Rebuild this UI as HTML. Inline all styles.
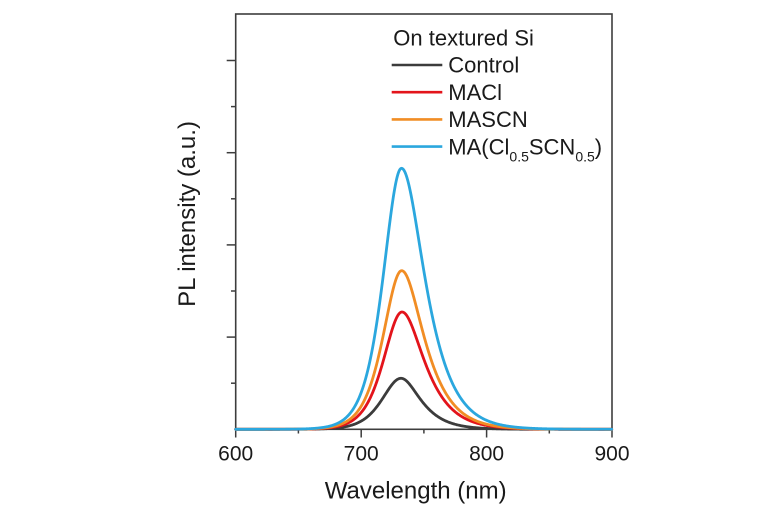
<!DOCTYPE html>
<html>
<head>
<meta charset="utf-8">
<style>
  html, body { margin: 0; padding: 0; background: #ffffff; }
  body { width: 780px; height: 520px; overflow: hidden; }
  svg { display: block; font-family: "Liberation Sans", Arial, sans-serif; }
</style>
</head>
<body>
<svg id="chart" width="780" height="520" viewBox="0 0 780 520" xmlns="http://www.w3.org/2000/svg">
  <rect x="0" y="0" width="780" height="520" fill="#ffffff"/>

  <!-- frame -->
  <rect x="235.7" y="14" width="376.3" height="415.3" fill="none" stroke="#3d3d3d" stroke-width="1.6"/>

  <!-- y ticks -->
  <g stroke="#3d3d3d" stroke-width="1.5">
    <line x1="226.7" y1="60.5" x2="235.7" y2="60.5"/>
    <line x1="226.7" y1="152.7" x2="235.7" y2="152.7"/>
    <line x1="226.7" y1="244.9" x2="235.7" y2="244.9"/>
    <line x1="226.7" y1="337.1" x2="235.7" y2="337.1"/>
    <line x1="231" y1="106.6" x2="235.7" y2="106.6"/>
    <line x1="231" y1="198.8" x2="235.7" y2="198.8"/>
    <line x1="231" y1="291" x2="235.7" y2="291"/>
    <line x1="231" y1="383.2" x2="235.7" y2="383.2"/>
  </g>

  <!-- x ticks -->
  <g stroke="#3d3d3d" stroke-width="1.5">
    <line x1="235.7" y1="429.3" x2="235.7" y2="437.5"/>
    <line x1="361.2" y1="429.3" x2="361.2" y2="437.5"/>
    <line x1="486.6" y1="429.3" x2="486.6" y2="437.5"/>
    <line x1="612" y1="429.3" x2="612" y2="437.5"/>
    <line x1="298.4" y1="429.3" x2="298.4" y2="433.5"/>
    <line x1="423.9" y1="429.3" x2="423.9" y2="433.5"/>
    <line x1="549.3" y1="429.3" x2="549.3" y2="433.5"/>
  </g>

  <!-- x tick labels -->
  <g font-size="21" fill="#1a1a1a" text-anchor="middle">
    <text x="235.7" y="460.5">600</text>
    <text x="361.2" y="460.5">700</text>
    <text x="486.6" y="460.5">800</text>
    <text x="612" y="460.5">900</text>
  </g>

  <!-- axis titles -->
  <text x="415.7" y="498.3" font-size="24" fill="#1a1a1a" text-anchor="middle">Wavelength (nm)</text>
  <text transform="translate(195.2,214) rotate(-90)" font-size="24" fill="#1a1a1a" text-anchor="middle">PL intensity (a.u.)</text>

  <!-- curves -->
  <g id="curves" fill="none" stroke-width="2.8" stroke-linejoin="round" stroke-linecap="round"></g>

  <!-- legend -->
  <text x="393.3" y="45.7" font-size="22" fill="#1a1a1a">On textured Si</text>
  <g stroke-width="2.6">
    <line x1="391.7" y1="65" x2="442.3" y2="65" stroke="#3c3c3c"/>
    <line x1="391.7" y1="92.2" x2="442.3" y2="92.2" stroke="#e3141b"/>
    <line x1="391.7" y1="119.4" x2="442.3" y2="119.4" stroke="#f18d24"/>
    <line x1="391.7" y1="146.6" x2="442.3" y2="146.6" stroke="#2ba7de"/>
  </g>
  <g font-size="22" fill="#1a1a1a">
    <text x="448.3" y="72.7">Control</text>
    <text x="448.3" y="99.9">MACl</text>
    <text x="448.3" y="127.1">MASCN</text>
    <text x="448.3" y="154.3">MA(Cl<tspan font-size="14" dy="7">0.5</tspan><tspan dy="-7">SCN</tspan><tspan font-size="14" dy="7">0.5</tspan><tspan dy="-7">)</tspan></text>
  </g>
</svg>
<script>
(function(){
  var base = 429.3;
  function hyp(d, a, w){ var t = d / w; return Math.exp(a - Math.sqrt(a*a + t*t)); }
  var series = [
    {c:401,   A:51,    aL:2, wL:12.2, aR:0.9, wR:17.5, col:'#3c3c3c'},
    {c:402,   A:117.3, aL:2, wL:12,   aR:0.9, wR:20,   col:'#e3141b'},
    {c:401.7, A:158.6, aL:2, wL:12,   aR:0.9, wR:20,   col:'#f18d24'},
    {c:401.5, A:261,   aL:2, wL:11.8, aR:1.0, wR:20,   col:'#2ba7de'}
  ];
  var g = document.getElementById('curves');
  var ns = 'http://www.w3.org/2000/svg';
  series.forEach(function(s){
    var pts = [];
    for (var x = 235.7; x <= 612.01; x += 0.5) {
      var d = x - s.c;
      var f = d < 0 ? hyp(-d, s.aL, s.wL) : hyp(d, s.aR, s.wR);
      var y = base - s.A * f;
      pts.push((pts.length ? 'L' : 'M') + x.toFixed(2) + ' ' + y.toFixed(2));
    }
    var p = document.createElementNS(ns, 'path');
    p.setAttribute('d', pts.join(''));
    p.setAttribute('stroke', s.col);
    g.appendChild(p);
  });
})();
</script>
</body>
</html>
